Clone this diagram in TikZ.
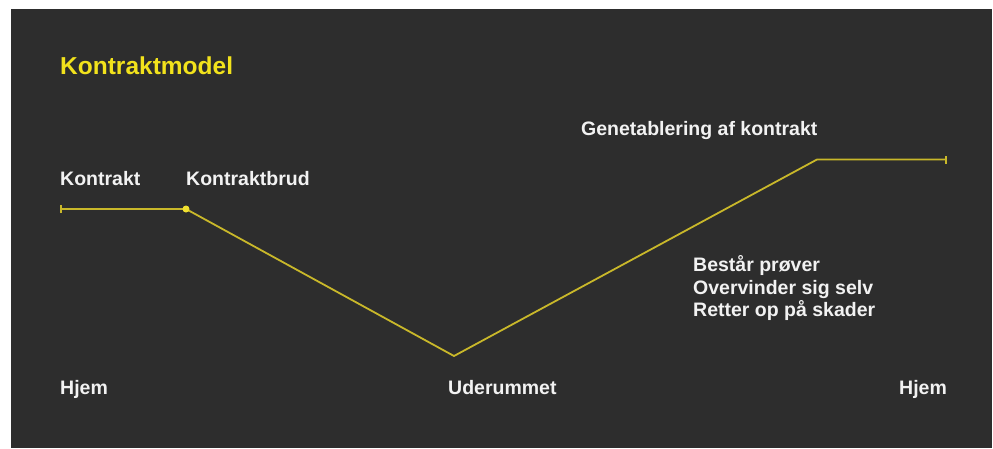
\documentclass[tikz,border=0pt]{standalone}
\usepackage{fontspec}
\setmainfont{Liberation Sans}
\definecolor{bgdark}{HTML}{2D2D2D}
\definecolor{titleyellow}{HTML}{F2E21C}
\definecolor{lineyellow}{HTML}{C9B82A}
\definecolor{dotyellow}{HTML}{F0E030}
\definecolor{txtwhite}{HTML}{F2F2F2}
\begin{document}
\begin{tikzpicture}[x=1pt,y=-1pt,
  lbl/.style={anchor=base west,inner sep=0pt,text=txtwhite,font=\fontsize{19.5}{22.5}\selectfont\bfseries},
  ttl/.style={anchor=base west,inner sep=0pt,text=titleyellow,font=\fontsize{24.5}{28}\selectfont\bfseries},
  curve/.style={draw=lineyellow,line width=1.8pt,line join=round},
  tick/.style={draw=lineyellow,line width=1.8pt}]
\fill[white] (0,0) rectangle (993,448);
\useasboundingbox (0,0) rectangle (993,448);
\fill[bgdark] (11,9) rectangle (992,448);

\node[ttl] (title) at (60,74) {Kontraktmodel};
\node[lbl] (kontrakt) at (60,185) {Kontrakt};
\node[lbl] (brud) at (186,185) {Kontraktbrud};
\node[lbl] (genet) at (581,135) {Genetablering af kontrakt};
\node[lbl,align=left,anchor=north west] (list) at (693,255.5) {Består prøver\\Overvinder sig selv\\Retter op på skader};
\node[lbl] (hjem1) at (60,394) {Hjem};
\node[lbl] (ude) at (448,394) {Uderummet};
\node[lbl] (hjem2) at (899,394) {Hjem};

\coordinate (p0) at (61,209);
\coordinate (p1) at (186,209);
\coordinate (p2) at (454,356);
\coordinate (p3) at (817,159.5);
\coordinate (p4) at (946,159.5);
\draw[curve] (p0) -- (p1) -- (p2) -- (p3) -- (p4);
\draw[tick] ([yshift=-4]p0) -- ([yshift=4]p0);
\draw[tick] ([yshift=-4]p4) -- ([yshift=4]p4);
\fill[dotyellow] (p1) circle (3.5);
\end{tikzpicture}
\end{document}
